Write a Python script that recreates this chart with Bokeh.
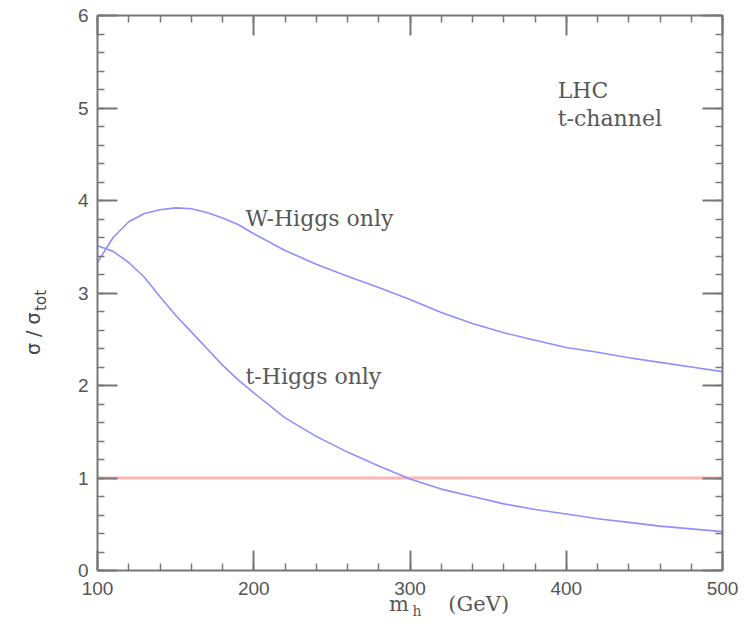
from bokeh.plotting import figure
from bokeh.models import LinearAxis, Label, Range1d, FixedTicker
from bokeh.embed import file_html
from bokeh.resources import INLINE

# ---- data ----
mh = [100, 110, 120, 130, 140, 150, 160, 170, 180, 190, 200, 220, 240, 260, 280,
      300, 320, 340, 360, 380, 400, 420, 440, 460, 480, 500]
w_higgs = [3.33, 3.60, 3.77, 3.86, 3.90, 3.92, 3.91, 3.87, 3.81, 3.74, 3.64, 3.46,
           3.31, 3.18, 3.06, 2.93, 2.79, 2.67, 2.57, 2.49, 2.41, 2.36, 2.30, 2.25,
           2.20, 2.15]
t_higgs = [3.51, 3.45, 3.33, 3.17, 2.96, 2.76, 2.58, 2.40, 2.22, 2.06, 1.92, 1.65,
           1.45, 1.28, 1.13, 0.99, 0.88, 0.80, 0.72, 0.66, 0.61, 0.56, 0.52, 0.48,
           0.45, 0.42]
ref_level = 1.0
x_ticks = [100, 200, 300, 400, 500]
y_ticks = [0, 1, 2, 3, 4, 5, 6]
x_minor = list(range(100, 501, 20))
y_minor = [i / 5 for i in range(0, 31)]
# axis titles (pieces, with the data position where each piece is centred)
x_title_main = {293.0: "m", 344.0: "(GeV)"}
x_title_sub = {304.5: "h"}
y_title_main = {2.56: "σ / σ"}
y_title_sub = {2.92: "tot"}

AX = "#777777"
TXT = "#585858"

p = figure(width=745, height=624, output_backend="svg", toolbar_location=None,
           x_range=Range1d(100, 500), y_range=Range1d(0, 6),
           x_axis_location=None, y_axis_location=None)
p.min_border_left = 97
p.min_border_right = 23
p.min_border_top = 15
p.min_border_bottom = 54
p.grid.visible = False
p.outline_line_color = None
p.background_fill_color = "white"
p.border_fill_color = "white"


def make_axis(ticks, minor, show_labels):
    ax = LinearAxis(ticker=FixedTicker(ticks=ticks, minor_ticks=minor))
    ax.axis_line_color = AX
    ax.axis_line_width = 2
    ax.major_tick_line_color = AX
    ax.major_tick_line_width = 2
    ax.minor_tick_line_color = AX
    ax.minor_tick_line_width = 1.5
    ax.major_tick_in = 20
    ax.major_tick_out = 0
    ax.minor_tick_in = 7
    ax.minor_tick_out = 0
    ax.major_label_text_font = "Liberation Sans"
    ax.major_label_text_font_size = "19px"
    ax.major_label_text_color = "#555555"
    if not show_labels:
        ax.major_label_text_alpha = 0
        ax.major_label_text_font_size = "1px"
    return ax


def title_axis(pieces, font, size, standoff, orientation="horizontal", color=TXT):
    pos = list(pieces.keys())
    ax = LinearAxis(ticker=FixedTicker(ticks=pos, minor_ticks=[]),
                    major_label_overrides=dict(pieces))
    ax.axis_line_color = None
    ax.major_tick_line_color = None
    ax.minor_tick_line_color = None
    ax.major_tick_in = 0
    ax.major_tick_out = 0
    ax.minor_tick_in = 0
    ax.minor_tick_out = 0
    ax.major_label_standoff = standoff
    ax.major_label_orientation = orientation
    ax.major_label_text_font = font
    ax.major_label_text_font_size = size
    ax.major_label_text_color = color
    return ax


bx = make_axis(x_ticks, x_minor, True)
bx.major_label_standoff = 11
ly = make_axis(y_ticks, y_minor, True)
ly.major_label_standoff = 9
tx = make_axis(x_ticks, x_minor, False)
ry = make_axis(y_ticks, y_minor, False)
p.add_layout(bx, "below")
p.add_layout(ly, "left")
p.add_layout(tx, "above")
p.add_layout(ry, "right")

serif = "DejaVu Serif"
p.add_layout(title_axis(x_title_main, serif, "21px", -6), "below")
p.add_layout(title_axis(x_title_sub, serif, "14px", -16), "below")
p.add_layout(title_axis(y_title_sub, "DejaVu Sans", "15px", 24, "vertical", "#444444"), "left")
p.add_layout(title_axis(y_title_main, "DejaVu Sans", "19px", -15, "vertical", "#444444"), "left")

# reference line at 1
p.line([100, 500], [ref_level, ref_level], line_color="#ffb3b3", line_width=3)
# curves
p.line(mh, w_higgs, line_color="#8f8fff", line_width=1.6)
p.line(mh, t_higgs, line_color="#8f8fff", line_width=1.6)

for txt, x, y in [("LHC", 394.5, 5.19), ("t-channel", 394.5, 4.89),
                  ("W-Higgs only", 194.7, 3.81), ("t-Higgs only", 194.7, 2.10)]:
    p.add_layout(Label(x=x, y=y, text=txt, text_font=serif, text_font_size="22px",
                       text_color=TXT, text_align="left", text_baseline="alphabetic"))

open("out.html", "w").write(file_html(p, INLINE))
